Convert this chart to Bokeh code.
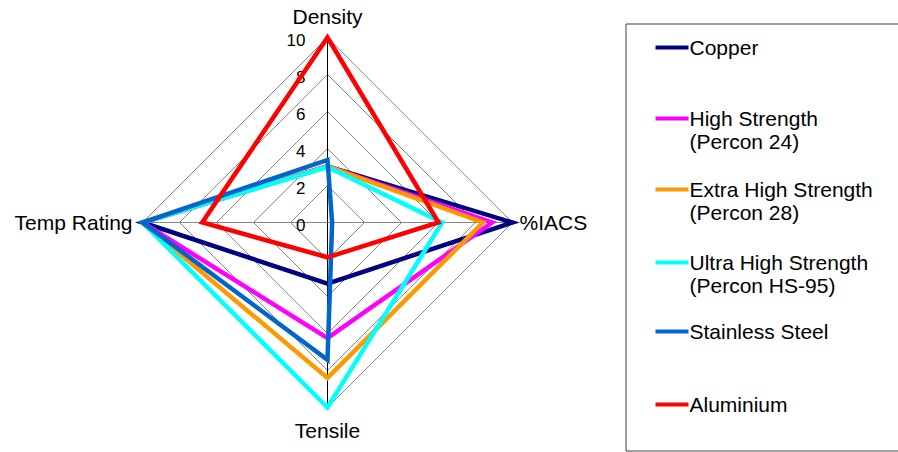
from bokeh.plotting import figure
from bokeh.embed import file_html
from bokeh.resources import INLINE
from bokeh.core.properties import value
import numpy as np

# Radar axes, clockwise from the top
categories = ["Density", "%IACS", "Tensile", "Temp Rating"]
tick_values = [0, 2, 4, 6, 8, 10]
tick_labels = ["0", "2", "4", "6", "8", "10"]

series_names = [
    "Copper",
    "High Strength\n(Percon 24)",
    "Extra High Strength\n(Percon 28)",
    "Ultra High Strength\n(Percon HS-95)",
    "Stainless Steel",
    "Aluminium",
]
copper = [3.03, 10.0, 3.3, 10.0]
high_strength = [3.03, 8.9, 6.25, 10.0]
extra_high_strength = [3.03, 8.4, 8.4, 10.0]
ultra_high_strength = [3.0, 6.2, 10.0, 10.0]
stainless_steel = [3.38, 0.25, 7.42, 10.0]
aluminium = [10.0, 6.0, 1.88, 6.77]
series_values = [copper, high_strength, extra_high_strength,
                 ultra_high_strength, stainless_steel, aluminium]
series_colors = ["#000080", "#FF00FF", "#FF9900", "#00FFFF", "#0066CC", "#FF0000"]

W, H = 898, 452
CX, CY = 327, 222          # pixel position of the radar centre
S = 18.5                   # pixels per value unit
R = 10.0                   # outer ring value


def X(px):
    return (px - CX) / S


def Y(py):
    return (CY - py) / S


p = figure(width=W, height=H, output_backend="svg", toolbar_location=None,
           x_range=(X(0), X(W)), y_range=(Y(H), Y(0)),
           min_border=0, outline_line_color=None)
p.axis.visible = False
p.grid.visible = False
p.background_fill_color = "white"
p.border_fill_color = "white"

n = len(categories)
angles = np.pi / 2 - np.arange(n) * 2 * np.pi / n
ca, sa = np.cos(angles), np.sin(angles)

# ring gridlines
for t in tick_values[1:]:
    p.patch(list(t * ca), list(t * sa), fill_color=None,
            line_color="#868686", line_width=1)

# spokes
for i in range(n):
    col = "#000000" if i % 2 == 0 else "#868686"
    p.line([0, R * ca[i]], [0, R * sa[i]], line_color=col, line_width=1)

font = value("Liberation Sans")

# value labels along the top spoke
p.text(x=[X(305)] * len(tick_values), y=[t - 2 / S for t in tick_values],
       text=tick_labels, text_align="right", text_baseline="middle",
       text_font=font, text_font_size="17px", text_color="#000000")

# category labels
p.text(x=[0], y=[Y(16)], text=[categories[0]], text_align="center",
       text_baseline="middle", text_font=font, text_font_size="21px")
p.text(x=[X(519)], y=[0], text=[categories[1]], text_align="left",
       text_baseline="middle", text_font=font, text_font_size="21px")
p.text(x=[0], y=[Y(430)], text=[categories[2]], text_align="center",
       text_baseline="middle", text_font=font, text_font_size="21px")
p.text(x=[X(132)], y=[0], text=[categories[3]], text_align="right",
       text_baseline="middle", text_font=font, text_font_size="21px")

# series outlines
for vals, col in zip(series_values, series_colors):
    v = np.array(vals)
    p.patch(list(v * ca), list(v * sa), fill_color=None, line_color=col,
            line_width=4.5, line_join="miter")

# legend box
p.quad(left=[X(625.5)], right=[X(899)], top=[Y(23.5)], bottom=[Y(450.5)],
       fill_color=None, line_color="#404040", line_width=1)

legend_rows = [47, 118, 189, 262, 331, 404]
for name, col, row in zip(series_names, series_colors, legend_rows):
    p.line([X(655), X(688)], [Y(row), Y(row)], line_color=col, line_width=4)
    for k, part in enumerate(name.split("\n")):
        p.text(x=[X(689)], y=[Y(row + 23 * k)], text=[part],
               text_align="left", text_baseline="middle", text_font=font,
               text_font_size="21px", text_color="#000000")

open("out.html", "w").write(file_html(p, INLINE))
